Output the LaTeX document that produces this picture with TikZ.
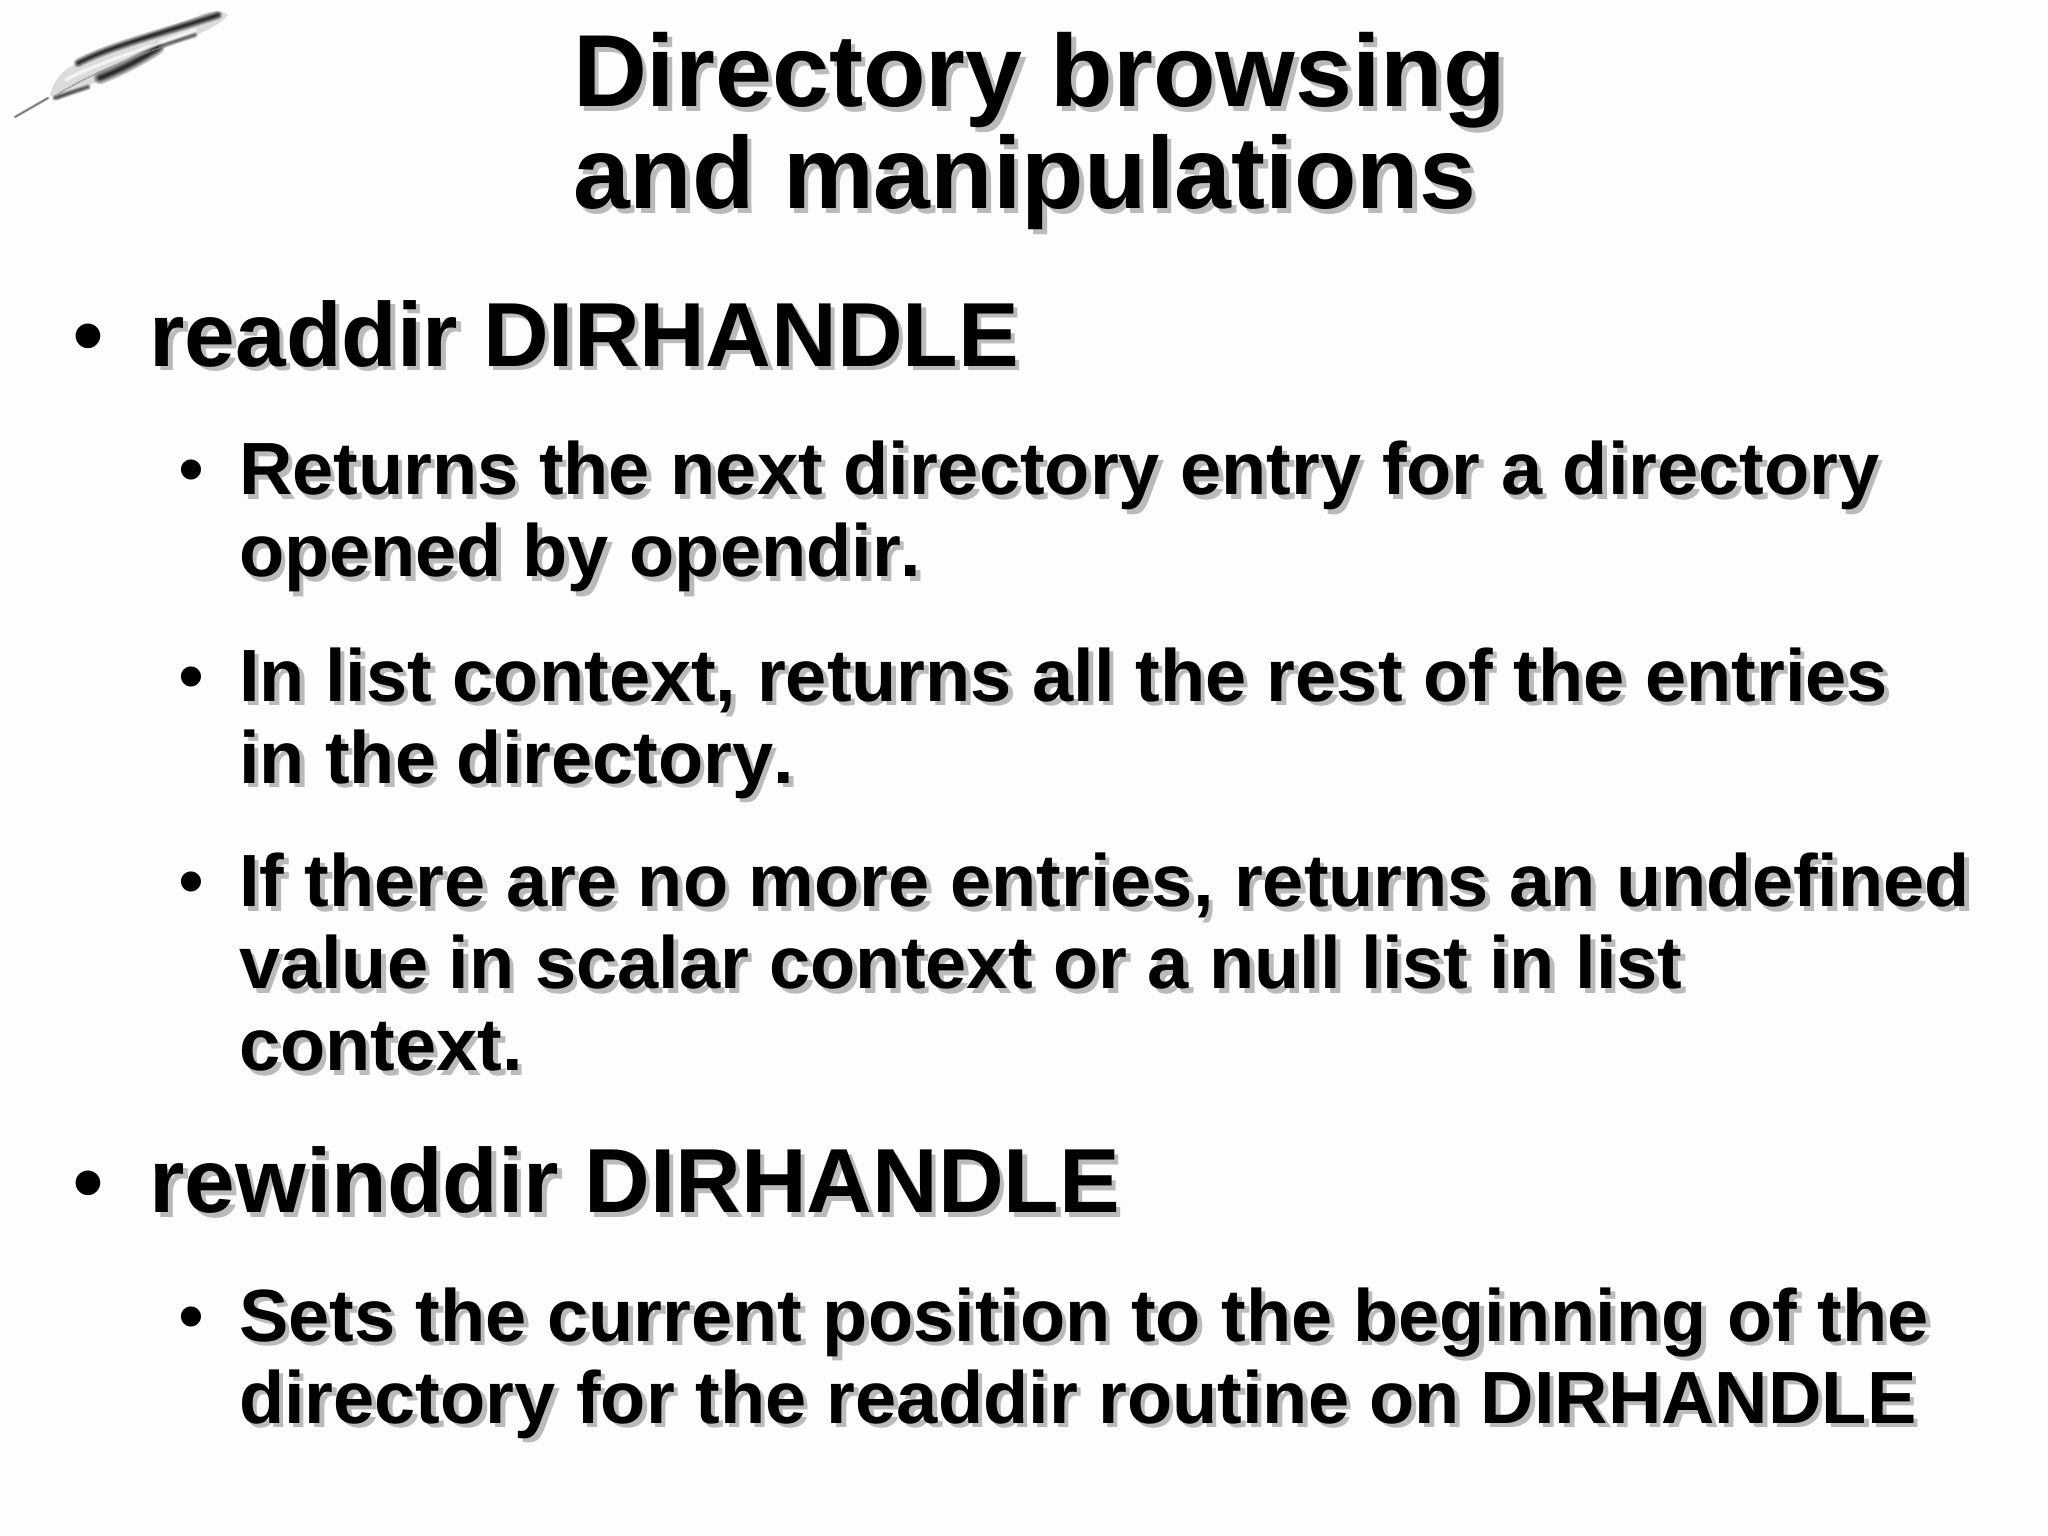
\documentclass[tikz,border=0pt]{standalone}
\usepackage{fontspec}
\setmainfont{Liberation Sans}
\definecolor{slidebg}{HTML}{FDFDFD}
\definecolor{shade}{HTML}{BABABA}
\newcommand{\shtext}[5]{% name, x, y, font size, text
  \node[textline,text=shade] (#1s) at (#2+4.5,#3+4.5) {\fontsize{#4bp}{#4bp}\selectfont\bfseries #5};
  \node[textline] (#1) at (#2,#3) {\fontsize{#4bp}{#4bp}\selectfont\bfseries #5};}
\newcommand{\bul}[4]{% name, x, y, size
  \node[textline] (#1) at (#2,#3) {\fontsize{#4bp}{#4bp}\selectfont •};}
\newcommand{\softstroke}[2]{% colour, path
  \foreach \w/\o in {1/.18,.8/.2,.6/.25,.4/.3,.2/.4}{
    \draw[#1,line width=\w*\softw,opacity=\o,line cap=round] #2;}}
\newlength{\softw}
\tikzset{textline/.style={inner sep=0pt,outer sep=0pt,anchor=base west,text=black}}
\begin{document}
\begin{tikzpicture}[x=1bp,y=-1bp]
\useasboundingbox (0,0) rectangle (2048,1536);
\fill[slidebg] (0,0) rectangle (2048,1536);
% feather
\setlength{\softw}{3bp}
\softstroke{black!70}{(15,117) -- (48,98)}
\fill[black!14] (50,95) .. controls (54,82) and (60,72) .. (72,66) .. controls (110,46) and (170,28) .. (205,13) .. controls (215,10) and (225,12) .. (228,15) .. controls (222,24) and (200,34) .. (165,48) .. controls (130,68) and (95,82) .. (58,100) -- cycle;
\setlength{\softw}{9bp}
\softstroke{black}{(78,63) .. controls (110,46) and (160,34) .. (218,15)}
\setlength{\softw}{13bp}
\softstroke{black}{(100,78) .. controls (120,70) and (140,60) .. (158,48)}
\setlength{\softw}{6bp}
\softstroke{black!70}{(160,46) -- (195,35)}
\setlength{\softw}{6bp}
\softstroke{black!80}{(55,98) -- (88,87)}
\setlength{\softw}{5bp}
\softstroke{white}{(66,80) .. controls (90,66) and (130,54) .. (195,30)}
\draw[black!45,line width=1.5bp,densely dotted] (55,96) .. controls (80,80) and (110,66) .. (165,46);
% title
\shtext{t1}{573}{107}{102.4}{Directory browsing}
\shtext{t2}{573}{208.5}{102.2}{and manipulations}
% level 1
\bul{b1}{72}{366.5}{91}
\shtext{l1}{149.5}{366}{91}{readdir DIRHANDLE}
% readdir sub-items
\bul{b2}{178}{494}{74}
\shtext{a1}{239}{494.5}{74}{Returns the next directory entry for a directory}
\shtext{a2}{239}{576.5}{74}{opened by opendir\kern0pt.}
\bul{b3}{178}{701}{74}
\shtext{c1}{239}{701}{74}{In list context, returns all the rest of the entries}
\shtext{c2}{239}{783}{74}{in the directory\kern0pt.}
\bul{b4}{178}{906.5}{74}
\shtext{d1}{239}{906.5}{74}{If there are no more entries, returns an undefined}
\shtext{d2}{239}{988.5}{74}{value in scalar context or a null list in list}
\shtext{d3}{239}{1070.5}{74}{context.}
% level 1
\bul{b5}{72}{1213}{91}
\shtext{l2}{149.5}{1212.5}{91}{rewinddir DIRHANDLE}
\bul{b6}{178}{1341}{74}
\shtext{e1}{239}{1341}{74}{Sets the current position to the beginning of the}
\shtext{e2}{239}{1423}{74}{directory for the readdir routine on DIRHANDLE}
\end{tikzpicture}
\end{document}
